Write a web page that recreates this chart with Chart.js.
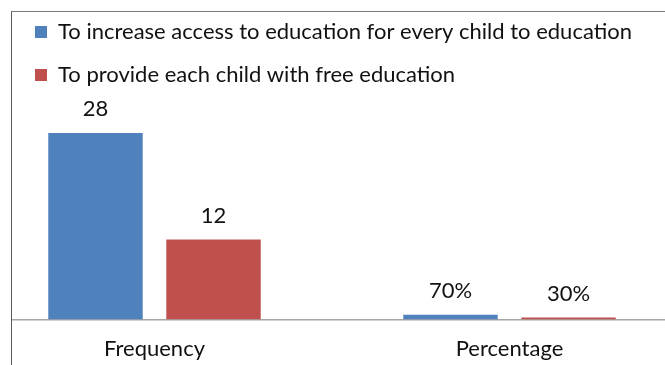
<!DOCTYPE html>
<html>
<head>
<meta charset="utf-8">
<script src="https://cdn.jsdelivr.net/npm/chart.js@4"></script>
<style>
  html, body { margin: 0; padding: 0; background: #fff; }
  body { width: 665px; height: 365px; position: relative; overflow: hidden; }
  #frame {
    position: absolute; left: 11px; top: 11px; width: 700px; height: 400px;
    border-left: 1px solid #5a5a5a; border-top: 1px solid #7a7a7a;
    overflow: hidden;
  }
  /* the plot runs past both sides of the window, as in the cropped original */
  #chart { position: absolute; left: -35px; top: -12px; }
</style>
</head>
<body>
<div id="frame"><canvas id="chart" width="710" height="365"></canvas></div>
<script>
// DATA
const categories = ["Frequency", "Percentage"];
const seriesNames = [
  "To increase access to education for every child to education",
  "To provide each child with free education"
];
const accessValues = [28, 0.70];
const freeValues = [12, 0.30];

const FONT = "Lato";
const TEXT = "#111";

// frequency shows raw count, percentage shows share
function fmt(v, i) {
  return i === 1 ? Math.round(v * 100) + "%" : String(v);
}

// move the legend so its first box sits at page x=35 (canvas starts at -23)
const legendShift = {
  id: "legendShift",
  afterLayout(chart) {
    const lg = chart.legend;
    const dx = 58 - (lg.left + lg.options.labels.padding);
    lg.left += dx;
    lg.right += dx;
  }
};

// numbers above the bars
const valueLabels = {
  id: "valueLabels",
  afterDatasetsDraw(chart) {
    const ctx = chart.ctx;
    ctx.save();
    ctx.font = "22px " + FONT;
    ctx.fillStyle = TEXT;
    ctx.textAlign = "center";
    ctx.textBaseline = "alphabetic";
    chart.data.datasets.forEach((ds, di) => {
      chart.getDatasetMeta(di).data.forEach((bar, i) => {
        ctx.fillText(fmt(ds.data[i], i), bar.x, bar.y - 16.5);
      });
    });
    ctx.restore();
  }
};

new Chart(document.getElementById("chart"), {
  type: "bar",
  data: {
    labels: categories,
    datasets: [
      { label: seriesNames[0], data: accessValues, backgroundColor: "#4F81BD" },
      { label: seriesNames[1], data: freeValues, backgroundColor: "#C0504D" }
    ]
  },
  options: {
    responsive: false,
    animation: false,
    devicePixelRatio: 1,
    categoryPercentage: 0.665,
    barPercentage: 0.8,
    layout: { padding: 0 },
    plugins: {
      legend: {
        position: "top",
        align: "start",
        labels: {
          boxWidth: 12,
          boxHeight: 12,
          padding: 21,
          color: TEXT,
          font: { family: FONT, size: 22 }
        }
      },
      tooltip: { enabled: false }
    },
    scales: {
      x: {
        grid: { display: false, drawTicks: false },
        border: { display: true, color: "#a6a6a6", width: 1.5 },
        ticks: { color: TEXT, padding: 16.5, font: { family: FONT, size: 22 } },
        afterFit(scale) { scale.height = 45.5; }
      },
      y: {
        display: false,
        min: 0,
        max: 33.55
      }
    }
  },
  plugins: [legendShift, valueLabels]
});
</script>
</body>
</html>
